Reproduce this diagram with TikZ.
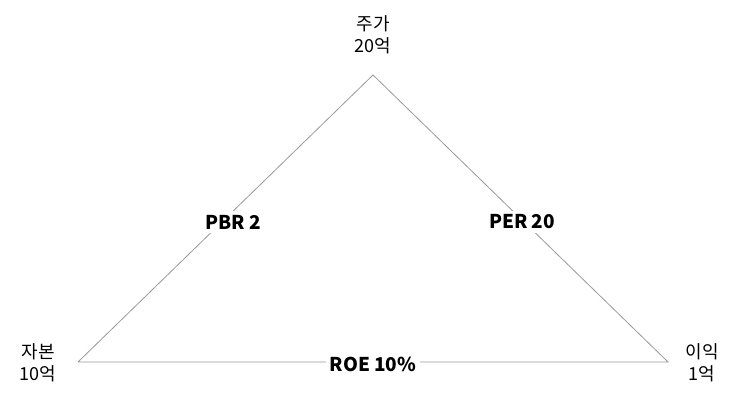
\documentclass[tikz,border=0pt]{standalone}
\usepackage{fontspec}
\setmainfont{Noto Sans CJK KR}
\begin{document}
\begin{tikzpicture}[x=1pt,y=-1pt,
  corner/.style={align=center,font=\fontsize{18}{22}\selectfont,inner sep=0pt},
  ratio/.style={fill=white,font=\fontsize{19}{22}\selectfont\bfseries,inner sep=4pt},
  edge/.style={draw=gray!80,line width=0.8pt}]
\useasboundingbox (0,0) rectangle (743,406);
\coordinate (top) at (373,75);
\coordinate (bl) at (78,362);
\coordinate (br) at (668,362);
\draw[edge] (bl) -- (top) -- (br) -- (bl);
\node[ratio] (pbr) at (233,222) {PBR 2};
\node[ratio] (per) at (522,222) {PER 20};
\node[ratio] (roe) at (373,364) {ROE 10\%};
\node[corner] (a) at (373,35) {주가\\20억};
\node[corner] (b) at (38,363) {자본\\10억};
\node[corner] (c) at (702,363) {이익\\1억};
\end{tikzpicture}
\end{document}
